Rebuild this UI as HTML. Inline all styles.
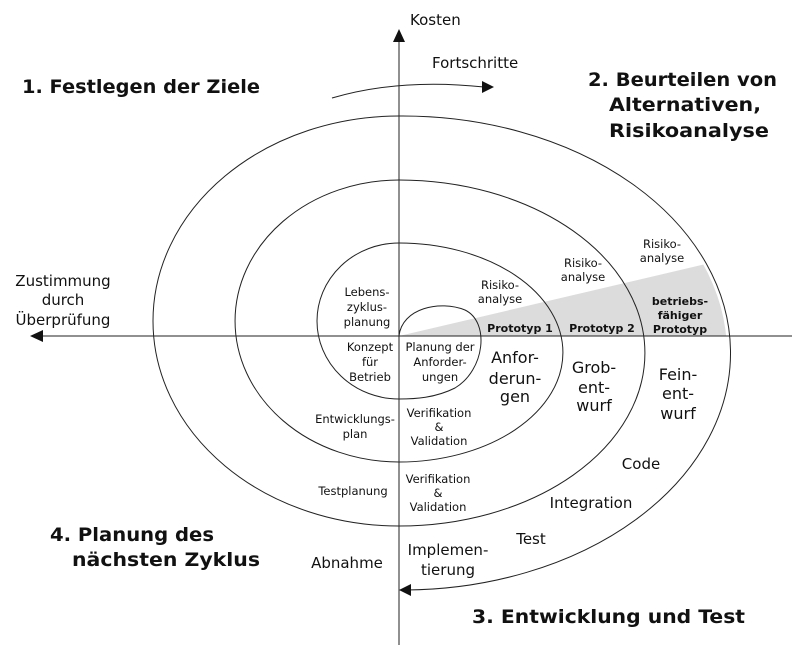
<!DOCTYPE html>
<html><head><meta charset="utf-8"><style>
html,body{margin:0;padding:0;background:#fff;}
svg{display:block;}
text{font-family:"DejaVu Sans","Liberation Sans",sans-serif;fill:#111;}
.s{font-size:11.5px;}
.m{font-size:15px;}
.l{font-size:16px;}
.b{font-size:11px;font-weight:bold;}
.t{font-size:19px;font-weight:bold;}
</style></head><body>
<svg width="800" height="657" viewBox="0 0 800 657" xmlns="http://www.w3.org/2000/svg">
<defs>
<clipPath id="cp"><ellipse cx="399" cy="353" rx="328" ry="237"/></clipPath>
</defs>
<polygon points="399,336 740,256 740,336" fill="#dcdcdc" clip-path="url(#cp)"/>
<g fill="none" stroke="#222" stroke-width="1">
<line x1="399" y1="40" x2="399" y2="645"/>
<line x1="40" y1="336" x2="792" y2="336"/>
<path d="M399,336 C402,308 440,300 465,310 C490,322 485,370 455,388 C435,398 415,399 399,399"/>
<path d="M399,399 A82,78 0 0 1 399,243"/>
<path d="M399,243 A164,109.5 0 0 1 399,462"/>
<path d="M399,462 A164,141 0 0 1 399,180"/>
<path d="M399,180 A246,173 0 0 1 399,526"/>
<path d="M399,526 A246,205 0 0 1 399,116"/>
<path d="M399,116 A328,237 0 0 1 406,590"/>
<path d="M332,98 Q400,78 484,87"/>
</g>
<polygon points="399,29 393,42 405,42" fill="#111"/>
<polygon points="30,336 43,330 43,342" fill="#111"/>
<polygon points="399,590 411,584 411,596" fill="#111"/>
<polygon points="494,87 482,81 482,93" fill="#111"/>

<text class="m" x="410" y="25">Kosten</text>
<text class="m" x="432" y="68">Fortschritte</text>
<text class="t" x="22" y="93" textLength="238" lengthAdjust="spacingAndGlyphs">1. Festlegen der Ziele</text>
<text class="t" x="588" y="86" textLength="189" lengthAdjust="spacingAndGlyphs">2. Beurteilen von</text>
<text class="t" x="609" y="111" textLength="152" lengthAdjust="spacingAndGlyphs">Alternativen,</text>
<text class="t" x="609" y="137" textLength="160" lengthAdjust="spacingAndGlyphs">Risikoanalyse</text>
<text class="t" x="472" y="623" textLength="273" lengthAdjust="spacingAndGlyphs">3. Entwicklung und Test</text>
<text class="t" x="50" y="541" textLength="164" lengthAdjust="spacingAndGlyphs">4. Planung des</text>
<text class="t" x="72" y="566" textLength="188" lengthAdjust="spacingAndGlyphs">nächsten Zyklus</text>

<g text-anchor="middle">
<text class="m" x="63" y="286">Zustimmung</text>
<text class="m" x="63" y="305">durch</text>
<text class="m" x="63" y="325">Überprüfung</text>

<text class="s" x="367" y="296">Lebens-</text>
<text class="s" x="367" y="311">zyklus-</text>
<text class="s" x="367" y="326">planung</text>
<text class="s" x="370" y="351">Konzept</text>
<text class="s" x="370" y="366">für</text>
<text class="s" x="370" y="381">Betrieb</text>
<text class="s" x="440" y="351">Planung der</text>
<text class="s" x="440" y="366">Anforder-</text>
<text class="s" x="440" y="381">ungen</text>

<text class="s" x="500" y="289">Risiko-</text>
<text class="s" x="500" y="303">analyse</text>
<text class="s" x="583" y="267">Risiko-</text>
<text class="s" x="583" y="281">analyse</text>
<text class="s" x="662" y="248">Risiko-</text>
<text class="s" x="662" y="262">analyse</text>

<text class="b" x="520" y="332">Prototyp 1</text>
<text class="b" x="602" y="332">Prototyp 2</text>
<text class="b" x="680" y="305">betriebs-</text>
<text class="b" x="680" y="319">fähiger</text>
<text class="b" x="680" y="333">Prototyp</text>

<text class="l" x="515" y="363">Anfor-</text>
<text class="l" x="515" y="384">derun-</text>
<text class="l" x="515" y="402">gen</text>
<text class="l" x="594" y="373">Grob-</text>
<text class="l" x="594" y="393">ent-</text>
<text class="l" x="594" y="411">wurf</text>
<text class="l" x="678" y="380">Fein-</text>
<text class="l" x="678" y="399">ent-</text>
<text class="l" x="678" y="419">wurf</text>

<text class="s" x="355" y="423">Entwicklungs-</text>
<text class="s" x="355" y="438">plan</text>
<text class="s" x="439" y="417">Verifikation</text>
<text class="s" x="439" y="431">&amp;</text>
<text class="s" x="439" y="445">Validation</text>
<text class="s" x="353" y="495">Testplanung</text>
<text class="s" x="438" y="483">Verifikation</text>
<text class="s" x="438" y="497">&amp;</text>
<text class="s" x="438" y="511">Validation</text>

<text class="m" x="641" y="469">Code</text>
<text class="m" x="591" y="508">Integration</text>
<text class="m" x="531" y="544">Test</text>
<text class="m" x="448" y="555">Implemen-</text>
<text class="m" x="448" y="575">tierung</text>
<text class="m" x="347" y="568">Abnahme</text>
</g>
</svg>
</body></html>
